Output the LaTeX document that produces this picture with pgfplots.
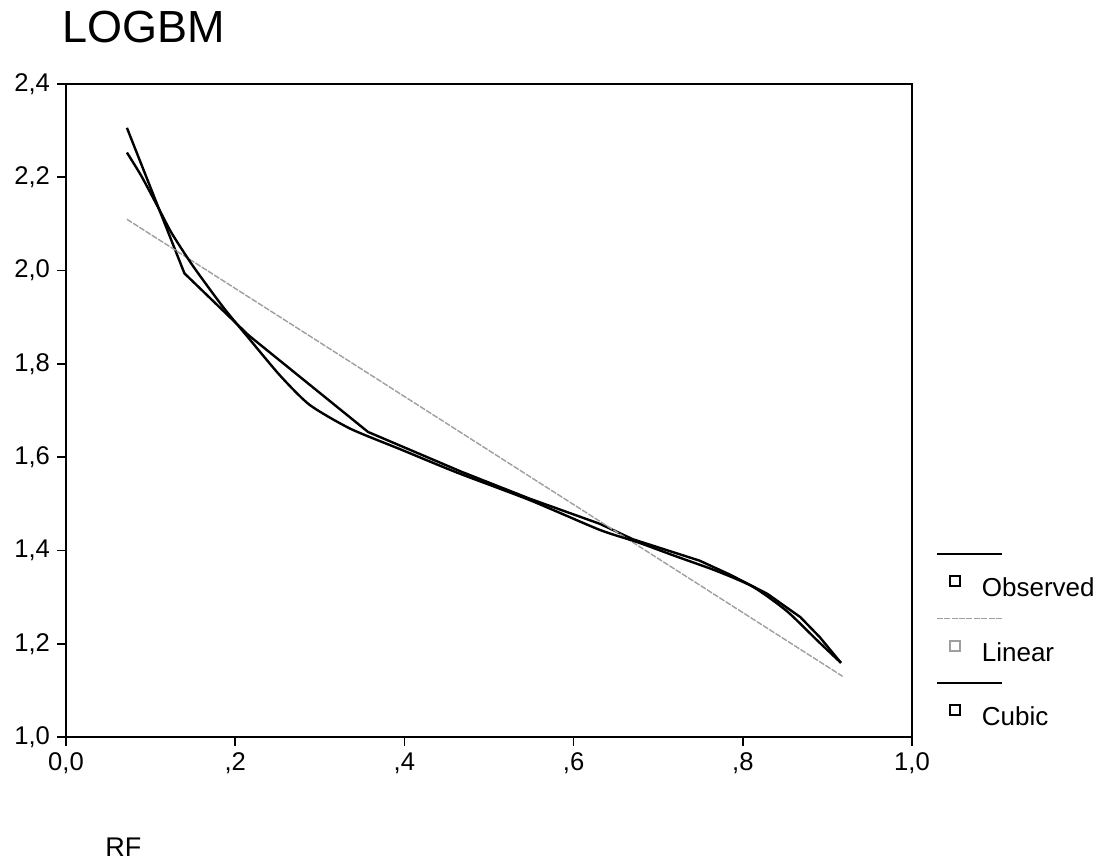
\documentclass[border=0pt]{standalone}
\usepackage{fontspec}
\setmainfont{Liberation Sans}
\usepackage{pgfplots}
\pgfplotsset{compat=1.18}

\begin{document}
\begin{tikzpicture}
\useasboundingbox (-33pt,-64pt) rectangle (520pt,368.5pt);
\begin{axis}[
    at={(0pt,0pt)}, anchor=south west,
    scale only axis,
    width=423pt, height=326.5pt,
    xmin=0, xmax=1, ymin=1, ymax=2.4,
    xtick={0,0.2,0.4,0.6,0.8,1},
    xticklabels={{0,0},{,2},{,4},{,6},{,8},{1,0}},
    ytick={1,1.2,1.4,1.6,1.8,2.0,2.2,2.4},
    yticklabels={{1,0},{1,2},{1,4},{1,6},{1,8},{2,0},{2,2},{2,4}},
    tick align=outside, tick pos=left,
    major tick length=4.5pt,
    tick style={black, line width=0.8pt},
    axis line style={line width=1.1pt},
    ticklabel style={font=\fontsize{12.8}{15}\selectfont},
    title={LOGBM},
    every axis title shift=0pt,
    title style={at={(axis description cs:-0.0047,1.0628)}, anchor=base west,
        yshift=0pt, inner sep=0pt, font=\fontsize{22.5}{26}\selectfont},
    xlabel={RF},
    xlabel style={at={(axis description cs:0.0461,-0.1823)}, anchor=base west,
        inner sep=0pt, font=\fontsize{13.5}{16}\selectfont},
    legend cell align=left,
    legend style={at={(axis description cs:1.0431,0.2483)}, anchor=north west,
        draw=none, fill=none, inner sep=0pt, row sep=20pt, column sep=10.5pt,
        nodes={inner sep=0pt},
        font=\fontsize{13}{15}\selectfont},
    legend image code/.code={
        \draw[#1, overlay] (-9pt,17.25pt) -- (23.5pt,17.25pt);
        \draw[#1, solid, line width=1pt] (-2.5pt,1.25pt) rectangle (2.5pt,6.25pt);
    },
]
% observed values (polyline through the data)
\addplot[black, line width=1.2pt] coordinates {
    (0.072,2.306) (0.140,1.994) (0.216,1.861) (0.357,1.654) (0.467,1.569)
    (0.548,1.511) (0.631,1.457) (0.670,1.424) (0.749,1.378) (0.785,1.348)
    (0.829,1.307) (0.868,1.257) (0.891,1.214) (0.916,1.159)
};
\addlegendentry{Observed}

% linear fit
\addplot[gray!75, line width=0.7pt, dash pattern=on 3pt off 0.7pt] coordinates {
    (0.072,2.110) (0.918,1.130)
};
\addlegendentry{Linear}

% cubic fit
\addplot[black, line width=1.2pt, smooth, tension=0.4] coordinates {
    (0.072,2.253) (0.089,2.203) (0.109,2.135) (0.125,2.080) (0.150,2.010)
    (0.186,1.921) (0.216,1.855) (0.253,1.775) (0.288,1.712) (0.336,1.661)
    (0.395,1.617) (0.462,1.567) (0.548,1.508) (0.631,1.444) (0.675,1.418)
    (0.720,1.388) (0.769,1.356) (0.812,1.322) (0.852,1.270) (0.888,1.207)
    (0.916,1.159)
};
\addlegendentry{Cubic}
\end{axis}
\end{tikzpicture}
\end{document}
